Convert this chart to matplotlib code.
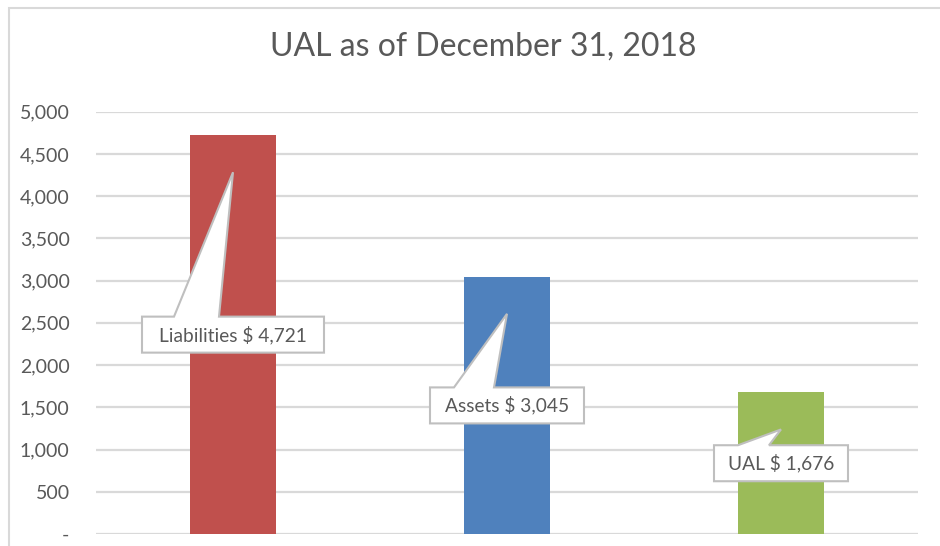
import matplotlib
matplotlib.use("Agg")
import matplotlib.pyplot as plt
from matplotlib.patches import Polygon, Rectangle
from matplotlib.transforms import IdentityTransform
from matplotlib.ticker import FuncFormatter

plt.rcParams['font.family'] = ['Lato', 'DejaVu Sans']

title = "UAL as of December 31, 2018"
categories = ["Liabilities", "Assets", "UAL"]
values = [4721, 3045, 1676]
colors = ["#C0504D", "#4F81BD", "#9BBB59"]
yticks = [0, 500, 1000, 1500, 2000, 2500, 3000, 3500, 4000, 4500, 5000]

# callout styling (pixels)
box_w = [182, 154, 134]
box_h = 36
base_off = [(-59, -14), (-53, -13), (-43, -12)]
tip_drop = 37

W, H = 940, 546
fig = plt.figure(figsize=(W / 100, H / 100), dpi=100)
ax = fig.add_axes([96 / W, (H - 534) / H, (918 - 96) / W, (534 - 111.7) / H])

x = list(range(len(categories)))
ax.bar(x, values, width=0.314, color=colors, zorder=2)
ax.set_xlim(-0.5, len(categories) - 0.5)
ax.set_ylim(0, 5000)
ax.set_yticks(yticks)
ax.yaxis.set_major_formatter(FuncFormatter(lambda v, p: "-" if v == 0 else f"{int(v):,}"))
ax.set_xticks([])
ax.grid(axis='y', color='#D9D9D9', linewidth=1.6, zorder=0)
ax.set_axisbelow(True)
for s in ax.spines.values():
    s.set_visible(False)
ax.tick_params(axis='y', length=0, pad=19, labelsize=14, labelcolor='#595959')

fig.text(483 / W, (H - 47) / H, title, ha='center', va='center', fontsize=23, color='#595959')

# chart outer border
fig.patches.append(Rectangle((9 / W, -0.1), 1.2, (H - 8) / H + 0.1, transform=fig.transFigure,
                             fill=False, edgecolor='#D9D9D9', linewidth=1.5))

for i, (cat, v) in enumerate(zip(categories, values)):
    cx, cy = ax.transData.transform((i, v / 2))
    _, topy = ax.transData.transform((i, v))
    L, R = cx - box_w[i] / 2, cx + box_w[i] / 2
    T, B = cy + box_h / 2, cy - box_h / 2
    b1, b2 = base_off[i]
    verts = [(L, B), (L, T), (cx + b1, T), (cx, topy - tip_drop), (cx + b2, T), (R, T), (R, B)]
    poly = Polygon(verts, closed=True, facecolor='white', edgecolor='#BFBFBF', linewidth=1.5,
                   transform=IdentityTransform(), zorder=5)
    fig.patches.append(poly)
    fig.text(cx / W, cy / H, f"{cat} $ {v:,}", ha='center', va='center', fontsize=13.8,
             color='#595959', zorder=6)

fig.savefig("out.png", dpi=100)
